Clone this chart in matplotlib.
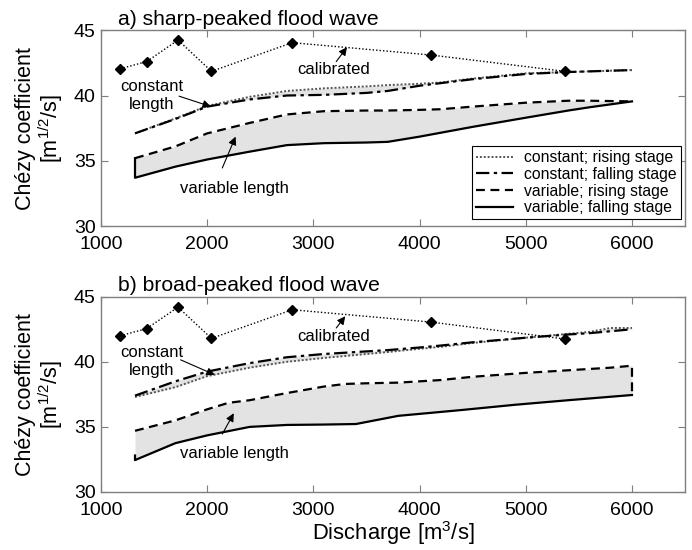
import numpy as np
import matplotlib
matplotlib.use("Agg")
import matplotlib.pyplot as plt
from matplotlib.lines import Line2D

plt.rcParams['font.family'] = ['Liberation Sans', 'DejaVu Sans']
plt.rcParams['mathtext.default'] = 'regular'

# ---------------- data ----------------
calib_q = [1180, 1430, 1725, 2040, 2800, 4110, 5370]
calib_c_a = [42.05, 42.6, 44.25, 41.85, 44.05, 43.1, 41.85]
calib_c_b = [42.0, 42.55, 44.2, 41.8, 44.0, 43.05, 41.75]

# panel a (sharp-peaked)
a_cr_q = [1320, 1700, 2000, 2400, 2750, 3100, 3500, 3700, 4000, 4200, 4500, 5000, 5400, 5600, 6000]
a_cr_c = [37.1, 38.25, 39.2, 39.9, 40.35, 40.55, 40.7, 40.8, 40.9, 41.0, 41.3, 41.7, 41.8, 41.85, 41.95]
a_cf_q = [1320, 1700, 2000, 2400, 2750, 3100, 3500, 3700, 4000, 4200, 4500, 5000, 5400, 5600, 6000]
a_cf_c = [37.1, 38.2, 39.15, 39.7, 40.0, 40.05, 40.2, 40.35, 40.75, 40.95, 41.25, 41.65, 41.8, 41.85, 41.95]
a_vr_q = [1320, 1700, 2000, 2400, 2750, 3100, 3500, 3700, 4000, 4200, 4500, 5000, 5400, 5600, 6000]
a_vr_c = [35.2, 36.1, 37.1, 37.9, 38.55, 38.8, 38.85, 38.85, 38.9, 38.95, 39.15, 39.45, 39.6, 39.6, 39.55]
a_vf_q = [1320, 1320, 1700, 2000, 2400, 2750, 3100, 3500, 3700, 4000, 4200, 4500, 5000, 5400, 5600, 6000]
a_vf_c = [35.2, 33.7, 34.55, 35.1, 35.7, 36.2, 36.35, 36.4, 36.45, 36.85, 37.15, 37.6, 38.3, 38.85, 39.1, 39.55]

# panel b (broad-peaked)
b_cr_q = [1320, 1700, 2000, 2400, 2750, 3100, 3500, 3700, 4000, 4200, 4500, 5000, 5400, 5600, 5800, 6000]
b_cr_c = [37.3, 38.05, 38.9, 39.55, 40.0, 40.3, 40.6, 40.75, 41.0, 41.15, 41.45, 41.85, 42.15, 42.3, 42.6, 42.6]
b_cf_q = [1320, 1700, 2000, 2400, 2750, 3100, 3500, 3700, 4000, 4200, 4500, 5000, 5400, 5600, 5800, 6000]
b_cf_c = [37.4, 38.5, 39.25, 39.9, 40.35, 40.6, 40.8, 40.9, 41.1, 41.25, 41.5, 41.85, 42.1, 42.2, 42.35, 42.5]
b_vr_q = [1320, 1700, 2000, 2200, 2400, 2750, 3100, 3300, 3500, 3800, 4000, 4200, 4500, 5000, 5400, 5600, 5800, 6000, 6000]
b_vr_c = [34.7, 35.5, 36.35, 36.85, 37.05, 37.6, 38.1, 38.3, 38.35, 38.4, 38.5, 38.6, 38.85, 39.15, 39.35, 39.45, 39.55, 39.7, 37.45]
b_vf_q = [1320, 1320, 1700, 2000, 2400, 2750, 3100, 3400, 3800, 4000, 4400, 4900, 5400, 6000]
b_vf_c = [32.8, 32.45, 33.75, 34.35, 35.0, 35.15, 35.18, 35.22, 35.85, 36.0, 36.3, 36.7, 37.05, 37.45]

xticks = [1000, 2000, 3000, 4000, 5000, 6000]
yticks = [30, 35, 40, 45]

legend_labels = ['constant; rising stage', 'constant; falling stage',
                 'variable; rising stage', 'variable; falling stage']

# ---------------- figure ----------------
fig = plt.figure(figsize=(6.92, 5.5), dpi=100)
ax_a = fig.add_axes([0.146, 0.589, 0.844, 0.356])
ax_b = fig.add_axes([0.146, 0.1055, 0.844, 0.355])

FILL = '#e3e3e3'
SPINE = '#7f7f7f'


def fill_loop(ax, q1, c1, q2, c2):
    # fill between two curves on a fine grid (interpolation only for shading)
    lo = max(min(q1), min(q2))
    hi = min(max(q1), max(q2))
    g = np.linspace(lo, hi, 400)

    def clean(q, c):
        q = np.asarray(q, float); c = np.asarray(c, float)
        _, idx = np.unique(q, return_index=True)
        return q[idx], c[idx]
    qa, ca = clean(q1, c1)
    qb, cb = clean(q2, c2)
    ax.fill_between(g, np.interp(g, qa, ca), np.interp(g, qb, cb),
                    color=FILL, lw=0, zorder=1)


def draw_panel(ax, cr_q, cr_c, cf_q, cf_c, vr_q, vr_c, vf_q, vf_c, cal_c,
               title, ann):
    fill_loop(ax, cr_q, cr_c, cf_q, cf_c)
    vr_q_f = list(vr_q); vr_c_f = list(vr_c)
    vf_q_f = list(vf_q); vf_c_f = list(vf_c)
    if vr_q_f[-1] == vr_q_f[-2]:
        vr_q_f = vr_q_f[:-1]; vr_c_f = vr_c_f[:-1]
    if vf_q_f[0] == vf_q_f[1]:
        vf_q_f = vf_q_f[1:]; vf_c_f = vf_c_f[1:]
    fill_loop(ax, vr_q_f, vr_c_f, vf_q_f, vf_c_f)

    ax.plot(calib_q, cal_c, color='black', ls=(0, (1, 1.5)), lw=1.0,
            marker='D', ms=5, mfc='black', mec='black', zorder=5)
    ax.plot(cr_q, cr_c, color='#555555', ls=(0, (1, 1)), lw=1.4, zorder=3)
    ax.plot(cf_q, cf_c, color='black', ls=(0, (6, 2, 1.5, 2)), lw=1.6, zorder=4)
    ax.plot(vr_q, vr_c, color='black', ls=(0, (4, 2.5)), lw=1.6, zorder=4)
    ax.plot(vf_q, vf_c, color='black', ls='-', lw=1.6, zorder=4)

    ax.set_xlim(1000, 6500)
    ax.set_ylim(30, 45)
    ax.set_xticks(xticks)
    ax.set_yticks(yticks)
    ax.tick_params(direction='in', top=True, right=True, length=5,
                   color=SPINE, labelsize=14)
    ax.tick_params(axis='x', pad=7)
    ax.tick_params(axis='y', pad=4)
    for s in ax.spines.values():
        s.set_color(SPINE)
        s.set_linewidth(1.0)
    ax.text(0.029, 1.008, title, transform=ax.transAxes, ha='left', va='bottom',
            fontsize=15.2)

    akw = dict(arrowstyle='-|>', color='black', lw=0.8, mutation_scale=12,
               shrinkA=0, shrinkB=0)
    for txt, (tx, ty), (hx, hy), (sx, sy) in ann:
        ax.annotate('', xy=(hx, hy), xytext=(sx, sy), arrowprops=akw, zorder=6)
        ax.text(tx, ty, txt, ha='center', va='center', fontsize=12,
                linespacing=1.25, zorder=7)


ann_a = [
    ('calibrated', (3190, 42.0), (3316, 43.7), (3215, 42.6)),
    ('constant\nlength', (1480, 40.0), (2035, 39.15), (1735, 39.95)),
    ('variable length', (2260, 32.9), (2267, 36.85), (2142, 34.45)),
]
ann_b = [
    ('calibrated', (3190, 41.95), (3300, 43.5), (3215, 42.6)),
    ('constant\nlength', (1480, 40.0), (2071, 39.0), (1750, 40.15)),
    ('variable length', (2260, 32.95), (2250, 36.05), (2142, 34.45)),
]

draw_panel(ax_a, a_cr_q, a_cr_c, a_cf_q, a_cf_c, a_vr_q, a_vr_c, a_vf_q, a_vf_c,
           calib_c_a, 'a) sharp-peaked flood wave', ann_a)
draw_panel(ax_b, b_cr_q, b_cr_c, b_cf_q, b_cf_c, b_vr_q, b_vr_c, b_vf_q, b_vf_c,
           calib_c_b, 'b) broad-peaked flood wave', ann_b)

handles = [
    Line2D([], [], color='#555555', ls=(0, (1, 1)), lw=1.4),
    Line2D([], [], color='black', ls=(0, (6, 2, 1.5, 2)), lw=1.6),
    Line2D([], [], color='black', ls=(0, (4, 2.5)), lw=1.6),
    Line2D([], [], color='black', ls='-', lw=1.6),
]
leg = ax_a.legend(handles, legend_labels, loc='lower right',
                  bbox_to_anchor=(0.993, 0.036), fontsize=11.3,
                  fancybox=False, framealpha=1, edgecolor='black',
                  handlelength=2.4, handletextpad=0.7, borderpad=0.25,
                  labelspacing=0.1, borderaxespad=0)
leg.get_frame().set_linewidth(0.8)

ax_b.set_xlabel('Discharge [m$^3$/s]', fontsize=15.8, labelpad=0)
for ax, yc in ((ax_a, 0.767), (ax_b, 0.283)):
    fig.text(0.058, yc, 'Chézy coefficient\n[m$^{1/2}$/s]', rotation=90,
             ha='center', va='center', fontsize=15.5, linespacing=1.05,
             multialignment='center')

fig.savefig('out.png', dpi=100)
